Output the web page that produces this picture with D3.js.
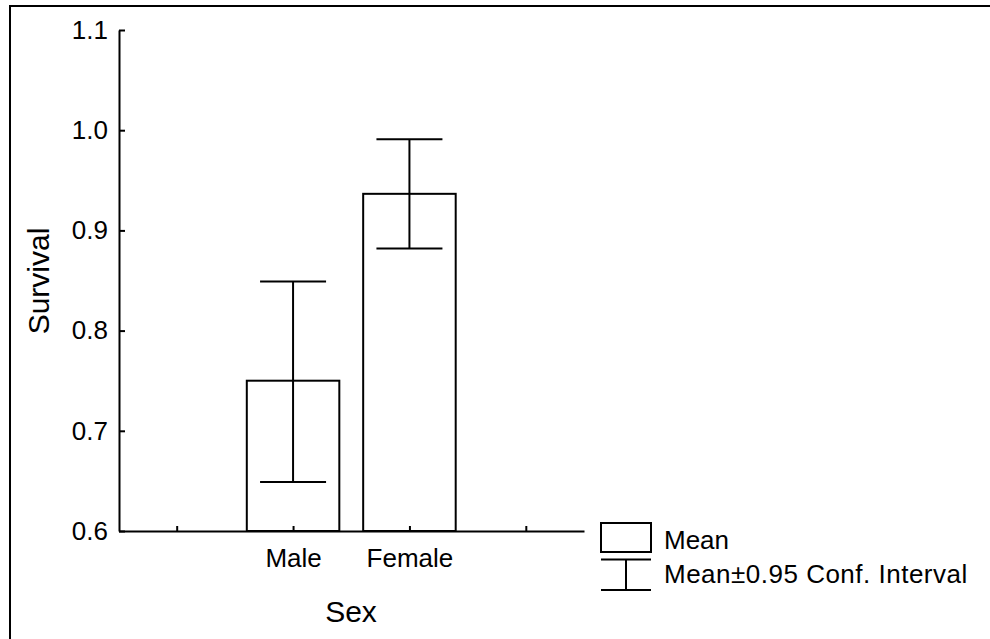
<!DOCTYPE html>
<html>
<head>
<meta charset="utf-8">
<script src="https://cdn.jsdelivr.net/npm/d3@7"></script>
<style>
  html, body { margin: 0; padding: 0; background: #fff; }
  svg { display: block; font-family: "Liberation Sans", Arial, sans-serif; }
</style>
</head>
<body>
<svg id="vis" width="990" height="639"></svg>
<script>
// data
const categories = ['Male', 'Female'];
const means = [0.750, 0.9365];
const ciLow = [0.649, 0.882];
const ciHigh = [0.849, 0.991];
const slotLabels = ['', 'Male', 'Female', ''];
const yTicks = [0.6, 0.7, 0.8, 0.9, 1.0, 1.1];

const vis = d3.select('#vis');

// outer frame, runs off the right and bottom edges
vis.append('rect')
  .attr('x', 10).attr('y', 6)
  .attr('width', 990).attr('height', 640)
  .attr('fill', 'none').attr('stroke', '#000').attr('stroke-width', 2);

const x = d3.scaleLinear().domain([0.5, 4.5]).range([118.5, 584]);
const y = d3.scaleLinear().domain([0.6, 1.1]).range([531, 30]);
const slotWidth = x(2) - x(1);
const barWidth = slotWidth * 0.795;
const capWidth = 66;
const slotOf = i => i + 2;

const g = vis.append('g');

// bars
g.selectAll('rect.bar').data(categories)
  .enter()
  .append('rect')
    .classed('bar', true)
    .attr('x', (d, i) => x(slotOf(i)) - barWidth / 2)
    .attr('y', (d, i) => y(means[i]))
    .attr('width', barWidth)
    .attr('height', (d, i) => y(0.6) - y(means[i]))
    .attr('fill', '#fff')
    .attr('stroke', '#000')
    .attr('stroke-width', 2);

// error bars
const err = g.selectAll('g.err').data(categories)
  .enter()
  .append('g')
    .classed('err', true)
    .attr('stroke', '#000')
    .attr('stroke-width', 2);

err.append('line')
  .attr('x1', (d, i) => x(slotOf(i))).attr('x2', (d, i) => x(slotOf(i)))
  .attr('y1', (d, i) => y(ciLow[i])).attr('y2', (d, i) => y(ciHigh[i]));
err.append('line')
  .attr('x1', (d, i) => x(slotOf(i)) - capWidth / 2).attr('x2', (d, i) => x(slotOf(i)) + capWidth / 2)
  .attr('y1', (d, i) => y(ciHigh[i])).attr('y2', (d, i) => y(ciHigh[i]));
err.append('line')
  .attr('x1', (d, i) => x(slotOf(i)) - capWidth / 2).attr('x2', (d, i) => x(slotOf(i)) + capWidth / 2)
  .attr('y1', (d, i) => y(ciLow[i])).attr('y2', (d, i) => y(ciLow[i]));

// axes, ticks point inward
const yAxis = d3.axisLeft(y)
  .tickValues(yTicks)
  .tickFormat(d3.format('.1f'))
  .tickSizeInner(-6)
  .tickSizeOuter(0)
  .tickPadding(11);

const xAxis = d3.axisBottom(x)
  .tickValues([1, 2, 3, 4])
  .tickFormat(d => slotLabels[d - 1])
  .tickSizeInner(-5)
  .tickSizeOuter(0)
  .tickPadding(18);

const gy = vis.append('g').attr('transform', 'translate(119,0)').call(yAxis);
const gx = vis.append('g').attr('transform', 'translate(0,531)').call(xAxis);

[gy, gx].forEach(ax => {
  ax.select('.domain').attr('stroke', '#000').attr('stroke-width', 2);
  ax.selectAll('.tick line').attr('stroke', '#000').attr('stroke-width', 2);
  ax.selectAll('.tick text')
    .attr('fill', '#000')
    .style('font-family', '"Liberation Sans", Arial, sans-serif')
    .style('font-size', '26px');
});

// axis titles
vis.append('text')
  .attr('x', 351).attr('y', 622)
  .attr('text-anchor', 'middle')
  .style('font-size', '30px')
  .text('Sex');

vis.append('text')
  .attr('transform', 'translate(49,281) rotate(-90)')
  .attr('text-anchor', 'middle')
  .style('font-size', '30px')
  .text('Survival');

// legend
const legend = vis.append('g')
  .attr('stroke', '#000')
  .attr('stroke-width', 2)
  .attr('fill', 'none');

legend.append('rect')
  .attr('x', 601).attr('y', 523)
  .attr('width', 50).attr('height', 29)
  .attr('fill', '#fff');
legend.append('line').attr('x1', 601).attr('x2', 651).attr('y1', 559.5).attr('y2', 559.5);
legend.append('line').attr('x1', 601).attr('x2', 651).attr('y1', 590).attr('y2', 590);
legend.append('line').attr('x1', 626).attr('x2', 626).attr('y1', 559.5).attr('y2', 590);

vis.append('text')
  .attr('x', 664).attr('y', 549)
  .style('font-size', '26px')
  .text('Mean');
vis.append('text')
  .attr('x', 664).attr('y', 583)
  .style('font-size', '26px')
  .style('letter-spacing', '0.5px')
  .text('Mean±0.95 Conf. Interval');
</script>
</body>
</html>
